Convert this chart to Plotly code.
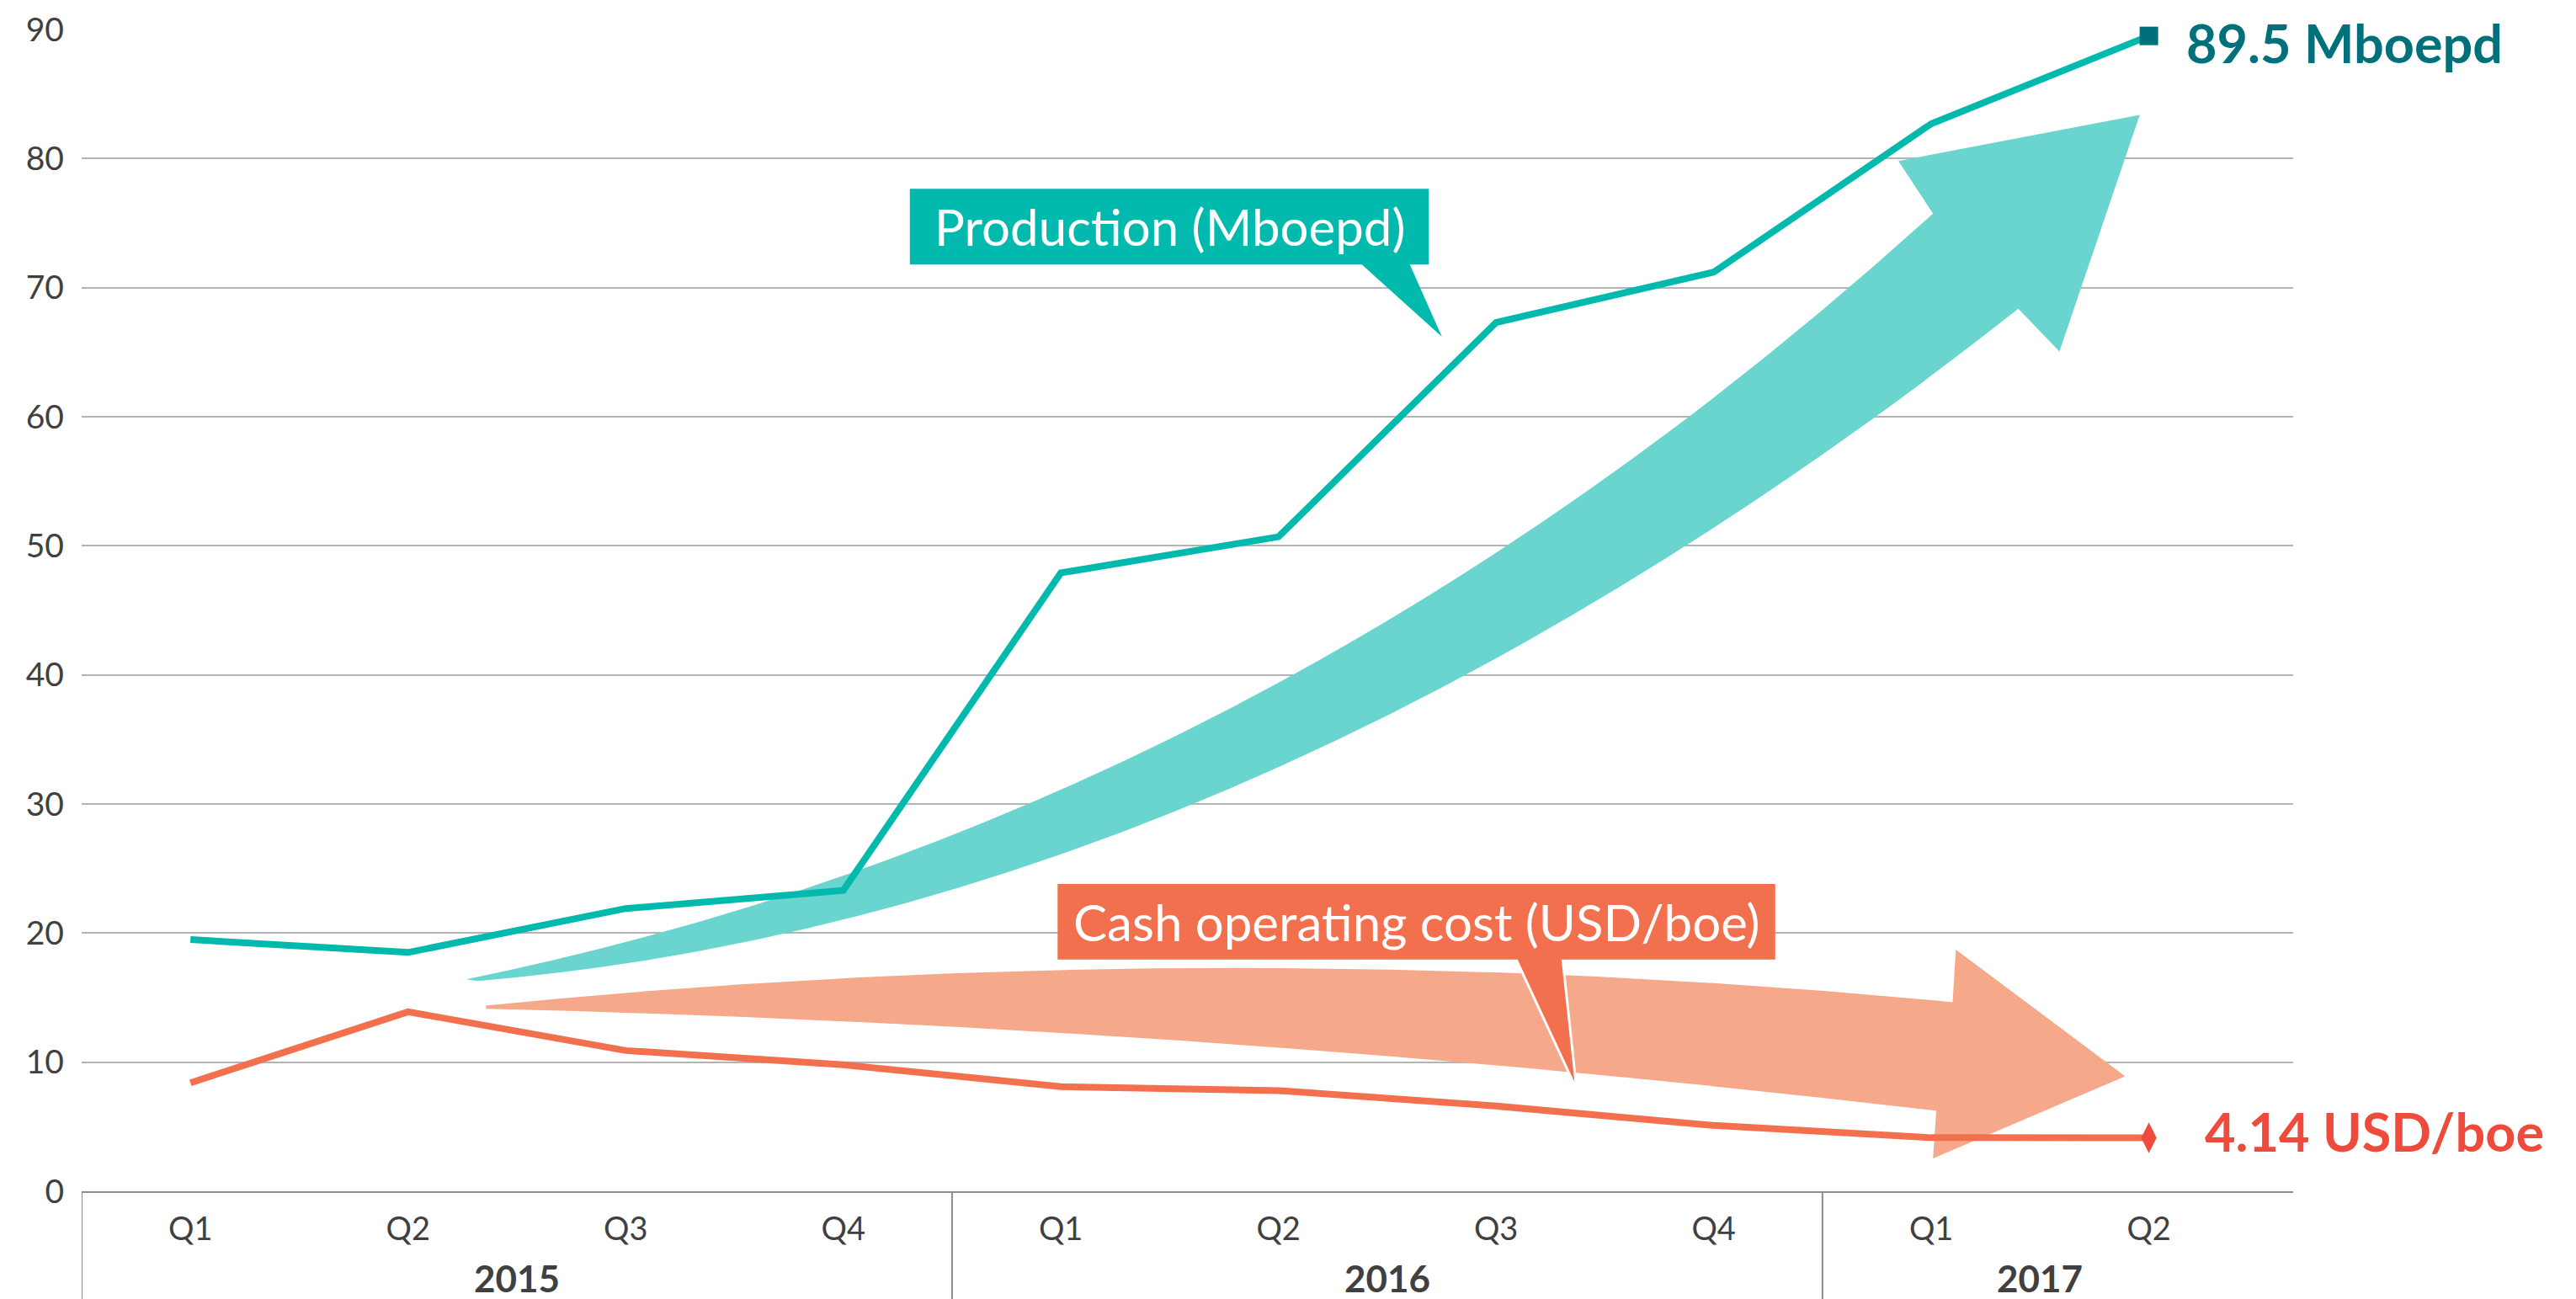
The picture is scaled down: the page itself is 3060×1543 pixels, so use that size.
import plotly.graph_objects as go

# ---------------- data ----------------
quarters = ["Q1", "Q2", "Q3", "Q4", "Q1", "Q2", "Q3", "Q4", "Q1", "Q2"]
years = ["2015", "2016", "2017"]
year_counts = [4, 4, 2]
production = [19.5, 18.5, 21.9, 23.3, 47.9, 50.7, 67.3, 71.2, 82.7, 89.5]
cost = [8.4, 13.9, 10.9, 9.8, 8.1, 7.8, 6.6, 5.1, 4.15, 4.14]
y_ticks = [0, 10, 20, 30, 40, 50, 60, 70, 80, 90]

xs = list(range(len(quarters)))

FONT = "Lato"
TEAL = "#02b9ae"
TEAL_DARK = "#00717a"
TEAL_LIGHT = "#69d5ce"
ORANGE = "#f2704e"
ORANGE_LIGHT = "#f6a88a"
RED = "#ee4b3d"
GREY_TXT = "#404040"

fig = go.Figure()

fig.add_trace(go.Scatter(x=xs, y=production, mode="lines",
                         line=dict(color=TEAL, width=8), cliponaxis=False,
                         hoverinfo="skip", showlegend=False))
fig.add_trace(go.Scatter(x=xs, y=cost, mode="lines",
                         line=dict(color=ORANGE, width=8), cliponaxis=False,
                         hoverinfo="skip", showlegend=False))
fig.add_trace(go.Scatter(x=[xs[-1]], y=[production[-1]], mode="markers",
                         marker=dict(symbol="square", size=22, color=TEAL_DARK),
                         cliponaxis=False, showlegend=False))
fig.add_trace(go.Scatter(x=[xs[-1]], y=[cost[-1]], mode="markers",
                         marker=dict(symbol="diamond-tall", size=26, color=RED),
                         cliponaxis=False, showlegend=False))

shapes = []
# big decorative arrows (data coordinates)
teal_arrow = ("M 1.268,16.42 Q 4.962,29.12 8.008,75.74 L 7.849,79.81 "
              "L 8.958,83.38 L 8.589,65.05 L 8.400,68.36 "
              "Q 4.86,21.3 1.321,16.29 Z")
orange_arrow = ("M 1.358,14.38 Q 4.73,20.09 8.098,14.64 L 8.113,18.71 "
                "L 8.891,8.91 L 8.008,2.55 L 8.023,6.24 "
                "Q 4.69,12.82 1.358,14.13 Z")
shapes.append(dict(type="path", path=teal_arrow, xref="x", yref="y",
                   fillcolor=TEAL_LIGHT, line=dict(width=0), layer="between"))
shapes.append(dict(type="path", path=orange_arrow, xref="x", yref="y",
                   fillcolor=ORANGE_LIGHT, line=dict(width=0), layer="between"))

# callout: production
shapes.append(dict(type="path", path="M 5.336,72.5 L 5.751,66.19 L 5.585,72.5 Z",
                   xref="x", yref="y", fillcolor=TEAL, line=dict(width=0), layer="above"))
shapes.append(dict(type="rect", x0=3.306, x1=5.691, y0=71.79, y1=77.65,
                   xref="x", yref="y", fillcolor=TEAL, line=dict(width=0), layer="above"))
# callout: cost
shapes.append(dict(type="path", path="M 6.075,18.6 L 6.370,7.89 L 6.302,18.6 Z",
                   xref="x", yref="y", fillcolor=ORANGE, line=dict(width=3, color="white"),
                   layer="above"))
shapes.append(dict(type="rect", x0=3.985, x1=7.283, y0=17.95, y1=23.80,
                   xref="x", yref="y", fillcolor=ORANGE, line=dict(width=0), layer="above"))

# category group dividers
bounds = [-0.5]
for c in year_counts:
    bounds.append(bounds[-1] + c)
for b in bounds[:-1]:
    shapes.append(dict(type="line", x0=b, x1=b, y0=0, y1=-0.12, xref="x", yref="paper",
                       line=dict(color="#8c8c8c", width=2), layer="above"))

annotations = []
# year labels
for i, yr in enumerate(years):
    cx = (bounds[i] + bounds[i + 1]) / 2
    annotations.append(dict(x=cx, y=-0.0746, xref="x", yref="paper", text="<b>" + yr + "</b>",
                            showarrow=False, xanchor="center", yanchor="middle",
                            font=dict(family=FONT, size=44, color=GREY_TXT)))
annotations.append(dict(x=4.4985, y=74.72, xref="x", yref="y", text="Production (Mboepd)",
                        showarrow=False, font=dict(family=FONT, size=60, color="white")))
annotations.append(dict(x=5.634, y=20.875, xref="x", yref="y",
                        text="Cash operating cost (USD/boe)",
                        showarrow=False, font=dict(family=FONT, size=60, color="white")))
annotations.append(dict(x=xs[-1], y=production[-1], xref="x", yref="y",
                        text="<b>" + f"{production[-1]} Mboepd" + "</b>",
                        showarrow=False, xanchor="left", yanchor="middle", xshift=42, yshift=-8,
                        font=dict(family=FONT, size=63, color=TEAL_DARK)))
annotations.append(dict(x=xs[-1], y=cost[-1], xref="x", yref="y",
                        text="<b>" + f"{cost[-1]} USD/boe" + "</b>",
                        showarrow=False, xanchor="left", yanchor="middle", xshift=64, yshift=8,
                        font=dict(family=FONT, size=63, color=RED)))

fig.update_layout(
    width=3060, height=1543,
    margin=dict(l=97, r=336, t=35, b=128),
    paper_bgcolor="white", plot_bgcolor="white",
    shapes=shapes, annotations=annotations,
    xaxis=dict(range=[-0.5, 9.663], tickvals=xs, ticktext=quarters, showgrid=False,
               zeroline=False, showline=True, linecolor="#8c8c8c", linewidth=2,
               ticks="", ticklabelstandoff=10,
               tickfont=dict(family=FONT, size=38, color=GREY_TXT)),
    yaxis=dict(range=[0, 90], tickvals=y_ticks, showgrid=True, gridcolor="#b4b4b4",
               gridwidth=2, zeroline=False, showline=False, ticks="",
               ticklabelstandoff=20,
               tickfont=dict(family=FONT, size=39, color=GREY_TXT)),
    showlegend=False,
)

fig.write_html("out.html")
